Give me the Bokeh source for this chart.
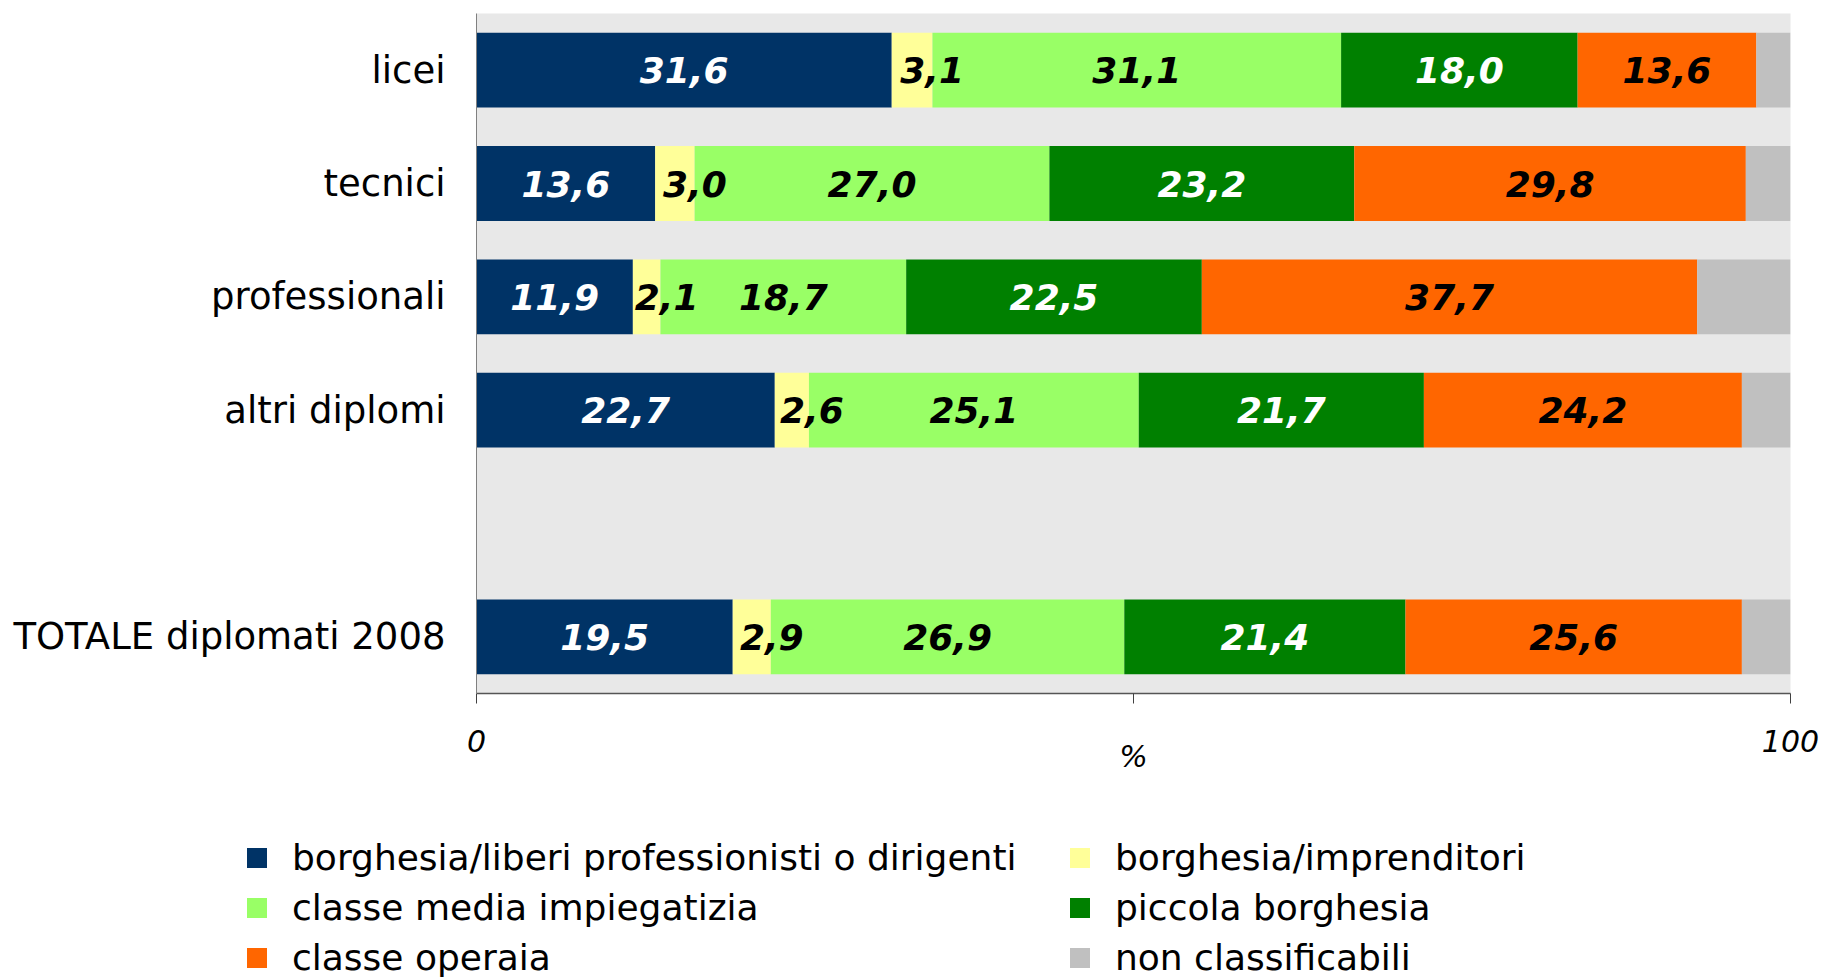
from bokeh.plotting import figure
from bokeh.models import ColumnDataSource, FactorRange, FixedTicker, Legend, LegendItem, Range1d
from bokeh.embed import file_html
from bokeh.resources import INLINE
from bokeh.core.properties import value

# ---------------- data ----------------
categories = ["licei", "tecnici", "professionali", "altri diplomi", "TOTALE diplomati 2008"]
axis_factors = ["licei", "tecnici", "professionali", "altri diplomi", " ", "TOTALE diplomati 2008"]

series_names = [
    "borghesia/liberi professionisti o dirigenti",
    "borghesia/imprenditori",
    "classe media impiegatizia",
    "piccola borghesia",
    "classe operaia",
    "non classificabili",
]
borghesia_liberi = [31.6, 13.6, 11.9, 22.7, 19.5]
borghesia_imprenditori = [3.1, 3.0, 2.1, 2.6, 2.9]
classe_media = [31.1, 27.0, 18.7, 25.1, 26.9]
piccola_borghesia = [18.0, 23.2, 22.5, 21.7, 21.4]
classe_operaia = [13.6, 29.8, 37.7, 24.2, 25.6]
non_classificabili = [2.6, 3.4, 7.1, 3.7, 3.7]

x_ticks = [0, 50, 100]
x_tick_labels = {0: "0", 50: "", 100: "100"}

# ---------------- styles ----------------
colors = ["#003366", "#FFFF99", "#99FF66", "#008000", "#FF6600", "#C0C0C0"]
label_colors = ["white", "black", "black", "white", "black", None]
label_offsets = [0, 20, 0, 0, 0, 0]
FONT_NAME = "DejaVu Sans"
FONT = value(FONT_NAME)

all_series = [borghesia_liberi, borghesia_imprenditori, classe_media,
              piccola_borghesia, classe_operaia, non_classificabili]
keys = ["s%d" % i for i in range(len(all_series))]

data = {"cat": categories}
for k, s in zip(keys, all_series):
    data[k] = s
source = ColumnDataSource(data)

p = figure(
    y_range=FactorRange(factors=list(reversed(axis_factors))),
    x_range=Range1d(0, 100),
    width=1822, height=800,
    frame_width=1314, frame_height=680,
    min_border_left=476, min_border_right=32,
    min_border_top=13, min_border_bottom=107,
    output_backend="svg", toolbar_location=None,
)
p.background_fill_color = "#E8E8E8"
p.border_fill_color = "white"
p.outline_line_color = None
p.xgrid.visible = False
p.ygrid.visible = False

renderers = p.hbar_stack(keys, y="cat", height=0.66, color=colors,
                         line_color=None, source=source)

# data labels
for i, (s, col) in enumerate(zip(all_series, label_colors)):
    if col is None:
        continue
    xs, ys, ts = [], [], []
    for j, cat in enumerate(categories):
        start = sum(all_series[k][j] for k in range(i))
        xs.append(start + s[j] / 2.0)
        ys.append(cat)
        ts.append(("%.1f" % s[j]).replace(".", ","))
    lsrc = ColumnDataSource(dict(x=xs, y=ys, t=ts))
    p.text(x="x", y="y", text="t", source=lsrc, text_color=col,
           text_font=FONT, text_font_style="bold italic", text_font_size="36px",
           text_align="center", text_baseline="middle", x_offset=label_offsets[i])

# axes
p.xaxis.ticker = FixedTicker(ticks=x_ticks)
p.xaxis.major_label_overrides = x_tick_labels
p.xaxis.minor_tick_line_color = None
p.xaxis.major_tick_in = 0
p.xaxis.major_tick_out = 10
p.xaxis.major_tick_line_color = "#404040"
p.xaxis.axis_line_color = "#555555"
p.xaxis.axis_line_width = 1.5
p.xaxis.major_label_text_font = FONT_NAME
p.xaxis.major_label_text_font_style = "italic"
p.xaxis.major_label_text_font_size = "30px"
p.xaxis.major_label_text_color = "black"
p.xaxis.major_label_standoff = 26
p.xaxis.axis_label = "%"
p.xaxis.axis_label_text_font = FONT_NAME
p.xaxis.axis_label_text_font_style = "italic"
p.xaxis.axis_label_text_font_size = "30px"
p.xaxis.axis_label_text_color = "black"
p.xaxis.axis_label_standoff = -16

p.yaxis.major_tick_line_color = None
p.yaxis.minor_tick_line_color = None
p.yaxis.axis_line_color = "#808080"
p.yaxis.major_label_text_font = FONT_NAME
p.yaxis.major_label_text_font_size = "37px"
p.yaxis.major_label_text_color = "black"
p.yaxis.major_label_standoff = 25

# ---------------- legend panel (separate root below the chart) ----------------
# same series as zero-height proxies (nothing visible), used only for the legend swatches
lg = figure(
    width=1822, height=178,
    x_range=Range1d(200, 300),
    y_range=FactorRange(factors=list(reversed(axis_factors))),
    x_axis_type=None, y_axis_type=None,
    min_border=0, min_border_left=0, min_border_right=0,
    min_border_top=0, min_border_bottom=0,
    output_backend="svg", toolbar_location=None,
)
lg.outline_line_color = None
lg.background_fill_color = "white"
lg.border_fill_color = "white"
lg.xgrid.visible = False
lg.ygrid.visible = False
leg_renderers = lg.hbar_stack(keys, y="cat", height=0, color=colors,
                              line_color=None, source=source)

legend = Legend(
    items=[LegendItem(label=n, renderers=[r]) for n, r in zip(series_names, leg_renderers)],
    location=(244, 0),
    orientation="horizontal", ncols=2,
    glyph_width=25, glyph_height=25, label_standoff=23,
    label_width=766, spacing=9, padding=0, margin=0,
    border_line_alpha=0, background_fill_alpha=0,
    label_text_font=FONT_NAME, label_text_font_size="36px", label_text_color="black",
)
lg.add_layout(legend, "center")

open("out.html", "w").write(file_html([p, lg], INLINE))
